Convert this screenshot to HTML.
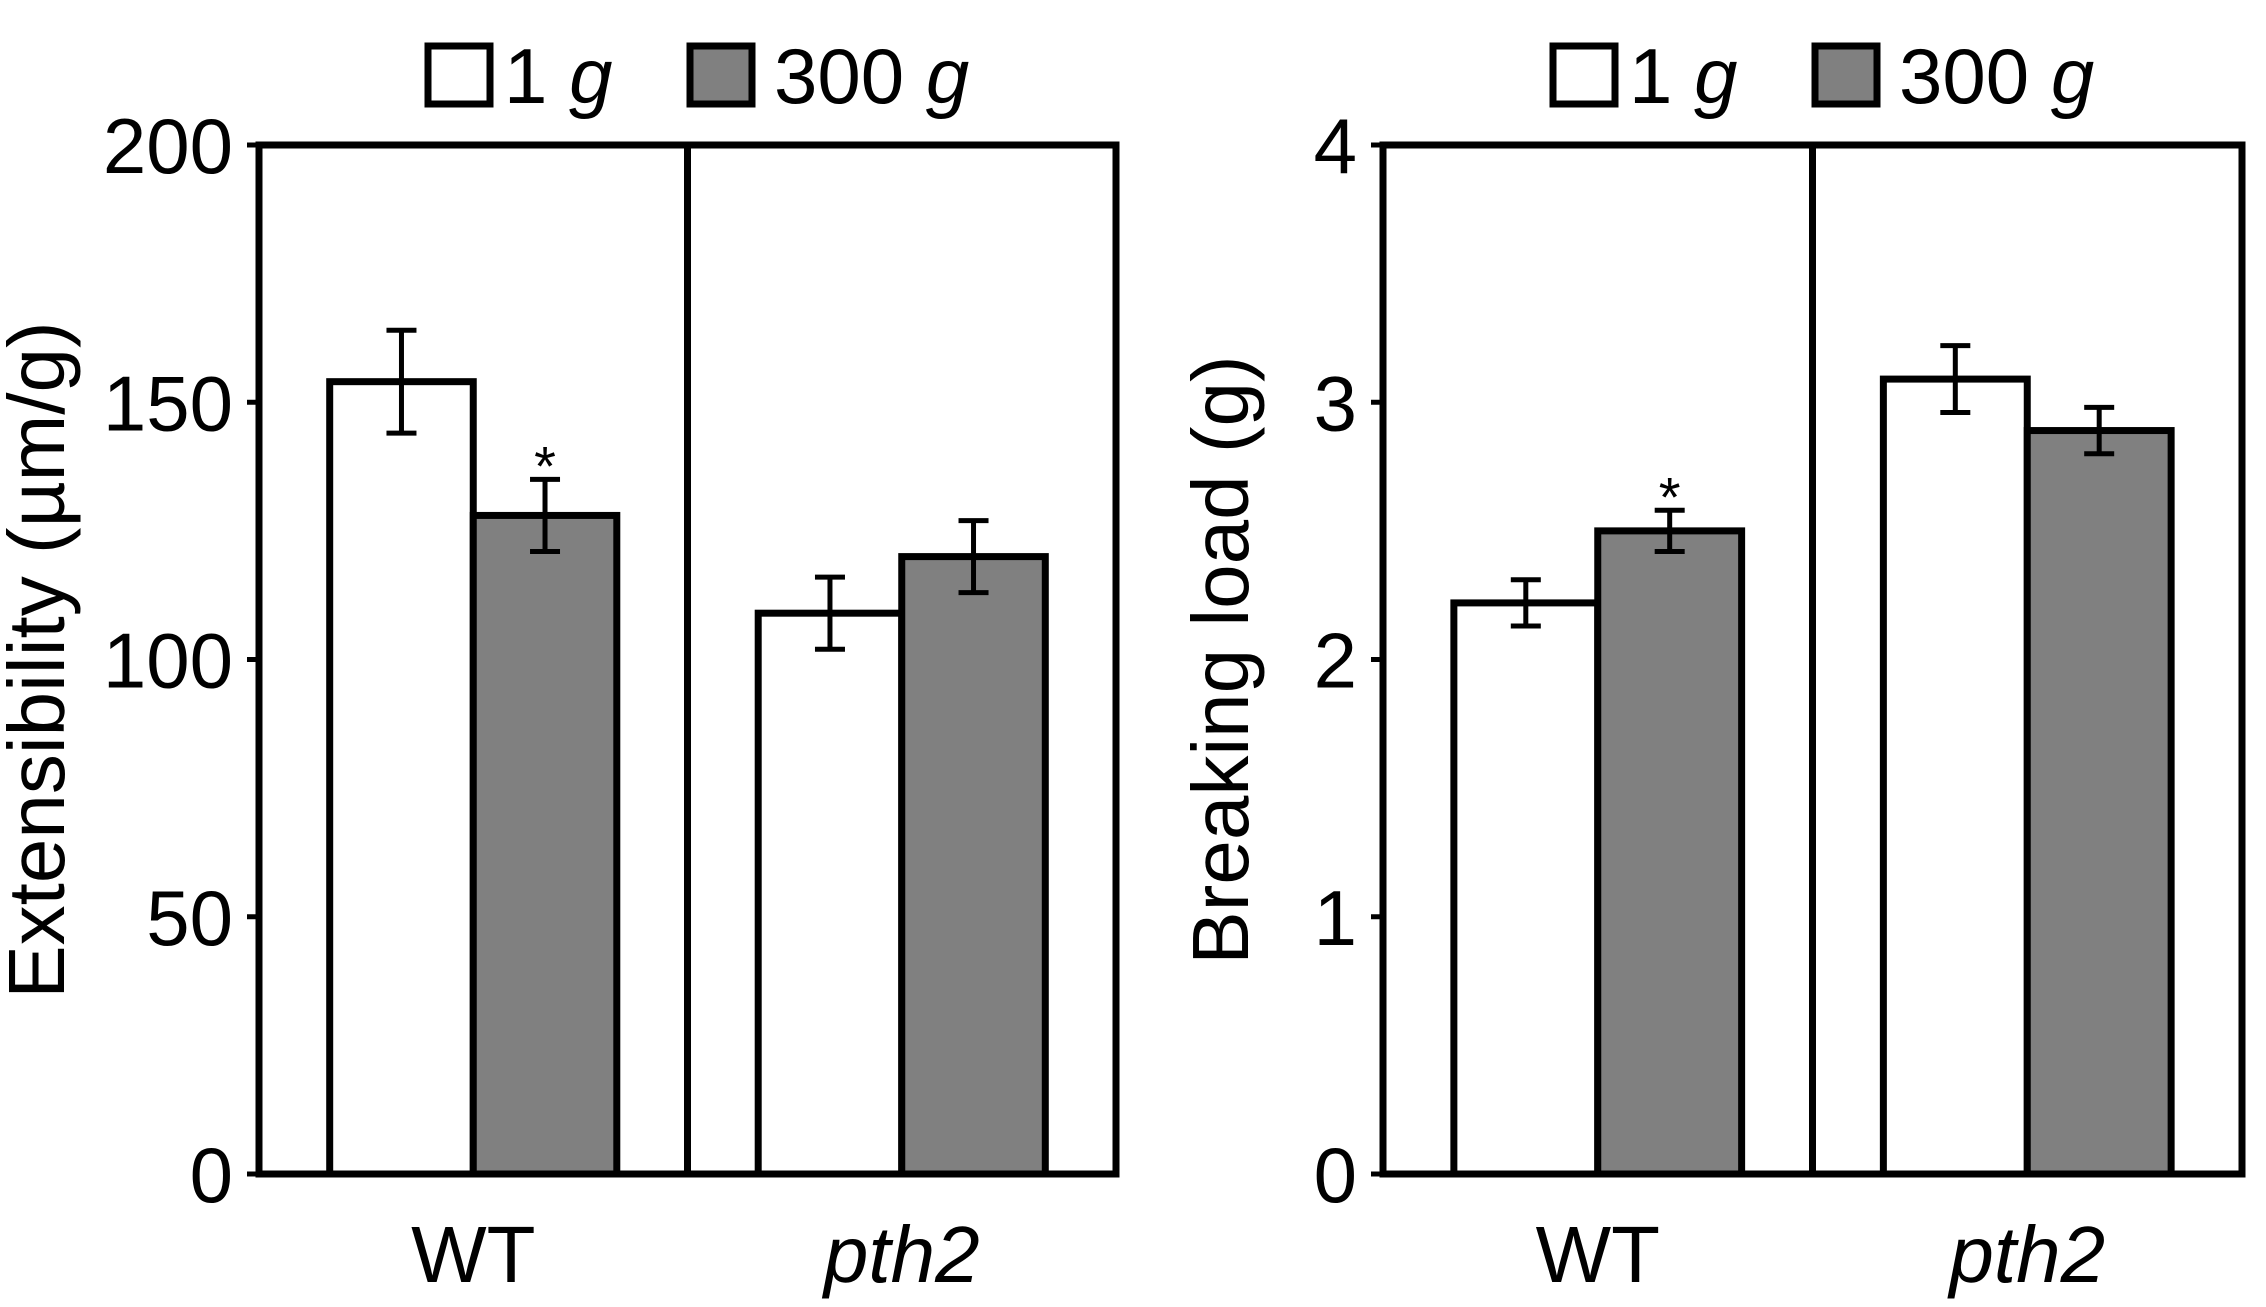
<!DOCTYPE html>
<html><head><meta charset="utf-8"><style>
html,body{margin:0;padding:0;background:#fff;}
svg{display:block;font-family:"Liberation Sans",Arial,sans-serif;}
</style></head><body>
<svg id="c" width="2266" height="1307" viewBox="0 0 2266 1307"></svg>
<script>
const groups = ["WT", "pth2"];
const series = ["1 g", "300 g"];
const extValues = [[154, 128], [109, 120]];
const extErrors = [[10, 7], [7, 7]];
const extTicks = [0, 50, 100, 150, 200];
const loadValues = [[2.22, 2.5], [3.09, 2.89]];
const loadErrors = [[0.09, 0.08], [0.13, 0.09]];
const loadTicks = [0, 1, 2, 3, 4];
const extSig = [[false, true], [false, false]];
const loadSig = [[false, true], [false, false]];

const NS = "http://www.w3.org/2000/svg";
const svg = document.getElementById("c");
function el(tag, attrs, parent) {
  const e = document.createElementNS(NS, tag);
  for (const k in attrs) e.setAttribute(k, attrs[k]);
  (parent || svg).appendChild(e);
  return e;
}
const fills = ["#ffffff", "#808080"];

function panel(name, x0, x1, yTitle, titleX, ticks, vals, errs, sig, legX) {
  const g = el("g", {});
  
  
  const yTop = 145, yBot = 1174, max = ticks[ticks.length - 1];
  const y = v => yBot - (v / max) * (yBot - yTop);
  const w = x1 - x0, half = w / 2, barW = half * 0.335;
  vals.forEach((pair, gi) => {
    const cx = x0 + half * gi + half / 2;
    pair.forEach((v, si) => {
      const bx = cx - barW + si * barW;
      const r = el("rect", {x: bx, y: y(v), width: barW, height: yBot - y(v), fill: fills[si], stroke: "#000", "stroke-width": 7}, g);
      
      
      const ex = bx + barW / 2, e = errs[gi][si];
      const eb = el("path", {d: `M${ex},${y(v+e)}V${y(v-e)}M${ex-15},${y(v+e)}H${ex+15}M${ex-15},${y(v-e)}H${ex+15}`, stroke: "#000", "stroke-width": 5, fill: "none"}, g);
      
      
      if (sig[gi][si]) {
        const t = el("text", {x: ex, y: y(v + e) + 6, "font-size": 56, "text-anchor": "middle"}, g);
        t.textContent = "*";
        
        
      }
    });
    const xl = el("text", {x: cx, y: 1282, "font-size": 80, "text-anchor": "middle", "font-style": gi ? "italic" : "normal"}, g);
    xl.textContent = groups[gi];
    
    
  });
  const f = el("rect", {x: x0, y: yTop, width: w, height: yBot - yTop, fill: "none", stroke: "#000", "stroke-width": 7}, g);
  
  
  const d = el("line", {x1: x0 + half, x2: x0 + half, y1: yTop, y2: yBot, stroke: "#000", "stroke-width": 7}, g);
  
  
  ticks.forEach(t => {
    const tk = el("line", {x1: x0 - 12, x2: x0, y1: y(t), y2: y(t), stroke: "#000", "stroke-width": 5}, g);
    
    
    const tl = el("text", {x: x0 - 26, y: y(t) + 28, "font-size": 78, "text-anchor": "end"}, g);
    tl.textContent = t;
    
    
  });
  const yt = el("text", {x: titleX + 6, y: 660, "font-size": 80, "text-anchor": "middle", transform: `rotate(-90 ${titleX + 6} 660)`}, g);
  yt.textContent = yTitle;
  
  
  const lg = el("g", {}, g);
  
  
  const entries = [[legX, legX + 76], [legX + 262, legX + 346]];
  entries.forEach((p, i) => {
    const b = el("rect", {x: p[0], y: 46, width: 62, height: 58, fill: fills[i], stroke: "#000", "stroke-width": 7}, lg);
    
    
    const t = el("text", {x: p[1], y: 103, "font-size": 78}, lg);
    const parts = series[i].split(" ");
    t.appendChild(document.createTextNode(parts[0] + " "));
    const it = el("tspan", {"font-style": "italic"}, t);
    it.textContent = parts[1];
    
    
  });
}
panel("extensibility-panel", 259, 1116, "Extensibility (µm/g)", 58, extTicks, extValues, extErrors, extSig, 428);
panel("breaking-load-panel", 1383, 2242, "Breaking load (g)", 1242, loadTicks, loadValues, loadErrors, loadSig, 1553);
</script>
</body></html>
